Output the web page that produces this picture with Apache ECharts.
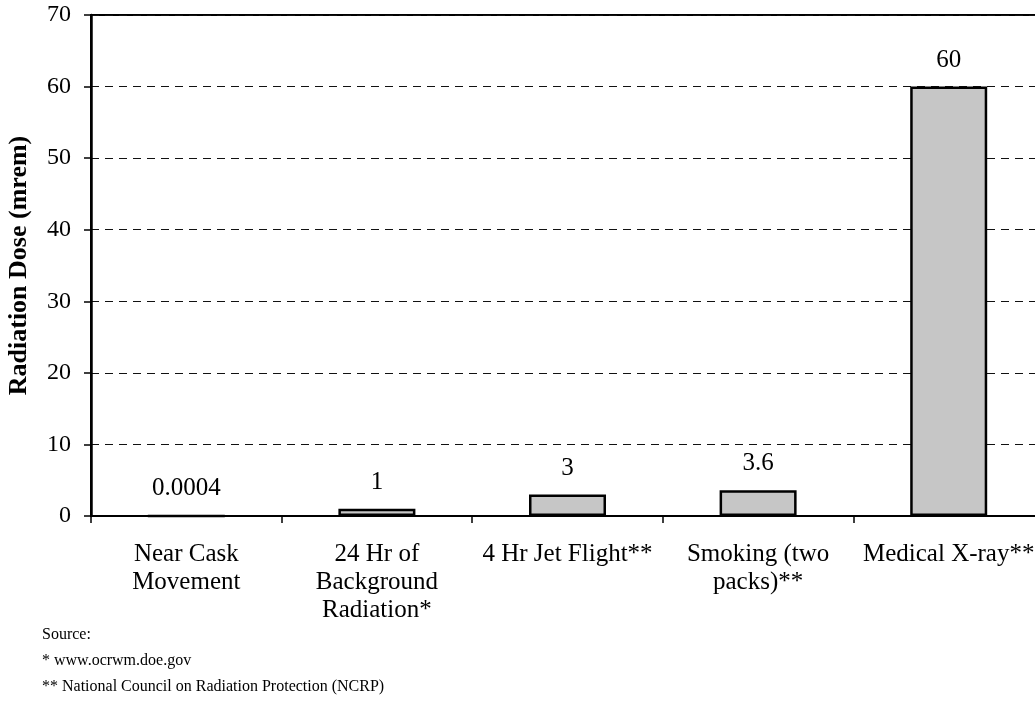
<!DOCTYPE html>
<html>
<head>
<meta charset="utf-8">
<script src="https://cdn.jsdelivr.net/npm/echarts@6/dist/echarts.min.js"></script>
<style>
html,body{margin:0;padding:0;background:#fff;}
#chart{width:1035px;height:701px;}
</style>
</head>
<body>
<div id="chart"></div>
<script>
const categories = [
  "Near Cask\nMovement",
  "24 Hr of\nBackground\nRadiation*",
  "4 Hr Jet Flight**",
  "Smoking (two\npacks)**",
  "Medical X-ray**"
];
const values = [0.0004, 1, 3, 3.6, 60];
const valueLabels = ["0.0004", "1", "3", "3.6", "60"];
const yMin = 0, yMax = 70, yStep = 10;
const yAxisTitle = "Radiation Dose (mrem)";
const sourceLines = [
  "Source:",
  "* www.ocrwm.doe.gov",
  "** National Council on Radiation Protection (NCRP)"
];

const FONT = '"Liberation Serif", "Times New Roman", serif';
const chart = echarts.init(document.getElementById('chart'), null, {renderer: 'canvas'});
chart.setOption({
  animation: false,
  backgroundColor: '#ffffff',
  grid: {
    left: 91, top: 15, bottom: 185, right: -9,
    containLabel: false,
    outerBoundsMode: 'none',
    show: true, borderColor: '#000', borderWidth: 2, backgroundColor: 'transparent'
  },
  xAxis: {
    type: 'category',
    data: categories,
    axisLine: {show: true, lineStyle: {color: '#000', width: 2}},
    axisTick: {show: true, length: 7, lineStyle: {color: '#000', width: 1.5}},
    axisLabel: {
      interval: 0, margin: 24, color: '#000',
      fontFamily: FONT, fontSize: 25, lineHeight: 28
    },
    splitLine: {show: false}
  },
  yAxis: {
    type: 'value',
    min: yMin, max: yMax, interval: yStep,
    name: yAxisTitle,
    nameLocation: 'middle',
    nameGap: 72,
    nameRotate: 90,
    nameMoveOverlap: false,
    nameTextStyle: {color: '#000', fontFamily: FONT, fontSize: 26, fontWeight: 'bold',
      verticalAlign: 'middle'},
    axisLine: {show: true, lineStyle: {color: '#000', width: 2.5}},
    axisTick: {show: true, length: 7, lineStyle: {color: '#000', width: 1.5}},
    axisLabel: {margin: 20, color: '#000', fontFamily: FONT, fontSize: 24},
    splitLine: {show: true, lineStyle: {color: '#111', width: 1, type: [8, 6]}}
  },
  series: [{
    type: 'bar',
    data: values,
    barWidth: 77,
    itemStyle: {color: '#c6c6c6', borderColor: '#000', borderWidth: 2.5},
    label: {
      show: true, position: 'top', distance: 14,
      color: '#000', fontFamily: FONT, fontSize: 25,
      formatter: p => valueLabels[p.dataIndex]
    }
  }],
  graphic: sourceLines.map((t, i) => ({
    type: 'text',
    left: 42,
    top: 627 + i * 26,
    style: {text: t, fill: '#000', font: '16px ' + FONT}
  }))
});
</script>
</body>
</html>
